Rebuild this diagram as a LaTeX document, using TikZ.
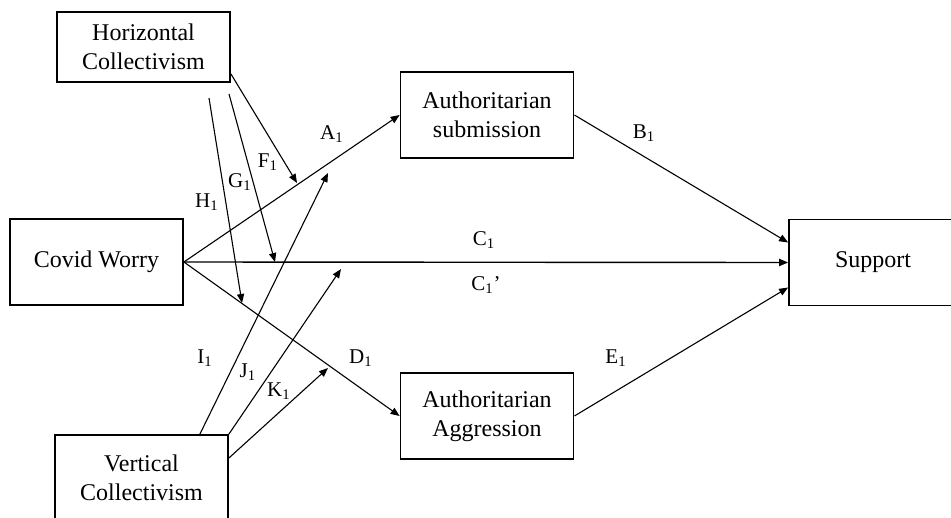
\documentclass[tikz,border=0pt]{standalone}
\usepackage{fontspec}
\setmainfont{Liberation Serif}
\usetikzlibrary{arrows.meta,calc}

\begin{document}
\begin{tikzpicture}[
  x=0.5pt, y=-0.5pt,
  every node/.style={font=\fontsize{12}{14.5}\selectfont},
  var/.style={draw,line width=0.9pt,align=center,inner sep=2pt,
              minimum width=86.5pt,minimum height=43pt},
  lbl/.style={font=\fontsize{10.5}{12}\selectfont,inner sep=1pt},
  arr/.style={-{Triangle[length=4.5pt,width=3.6pt]},line width=0.55pt}
]
  \useasboundingbox[fill=white] (0,0) rectangle (951,518);

  \node[var,minimum height=35pt] (hc) at (143.5,47) {Horizontal\\Collectivism};
  \node[var] (cw)  at (96.5,262)  {Covid Worry};
  \node[var] (vc)  at (141.5,478) {Vertical\\Collectivism};
  \node[var] (sub) at (487,115)   {Authoritarian\\submission};
  \node[var] (agg) at (487,416)   {Authoritarian\\Aggression};
  \node[var,minimum width=84pt] (sup) at (873,262.5) {Support};

  % free ends of the moderator paths
  \coordinate (gtop) at (229,94);
  \coordinate (htop) at (209,98);
  \coordinate (fend) at (297,183);
  \coordinate (gend) at (275,262);
  \coordinate (hend) at (242,303);
  \coordinate (iend) at (328,173);
  \coordinate (jend) at (341,269);
  \coordinate (kend) at (328,368);

  \draw[arr] (cw.east) -- (sub.west);
  \draw[arr,line width=0.7pt] (cw.east) -- (sup.west);
  \draw[arr] (cw.east) -- (agg.west);
  \draw[arr] (sub.east) -- ($(sup.west)+(0,-20)$);
  \draw[arr] (agg.east) -- ($(sup.west)+(0,25)$);

  \draw[arr] ($(hc.south east)+(0,-9)$) -- (fend);
  \draw[arr] (gtop) -- (gend);
  \draw[arr] (htop) -- (hend);
  \draw[arr] ($(vc.north east)+(-29,0)$) -- (iend);
  \draw[arr] (vc.north east) -- (jend);
  \draw[arr] ($(vc.east)+(0,-20)$) -- (kend);

  % path labels
  \node[lbl] (la)  at (332,134) {A\textsubscript{1}};
  \node[lbl] (lb)  at (644,133) {B\textsubscript{1}};
  \node[lbl] (lc)  at (484,240) {C\textsubscript{1}};
  \node[lbl] (lcp) at (486,285) {C\textsubscript{1}’};
  \node[lbl] (ld)  at (361,358) {D\textsubscript{1}};
  \node[lbl] (le)  at (616,358) {E\textsubscript{1}};
  \node[lbl] (lf)  at (268,162) {F\textsubscript{1}};
  \node[lbl] (lg)  at (240,182) {G\textsubscript{1}};
  \node[lbl] (lh)  at (207,202) {H\textsubscript{1}};
  \node[lbl] (li)  at (205,358) {I\textsubscript{1}};
  \node[lbl] (lj)  at (248,372) {J\textsubscript{1}};
  \node[lbl] (lk)  at (279,391) {K\textsubscript{1}};
\end{tikzpicture}
\end{document}
